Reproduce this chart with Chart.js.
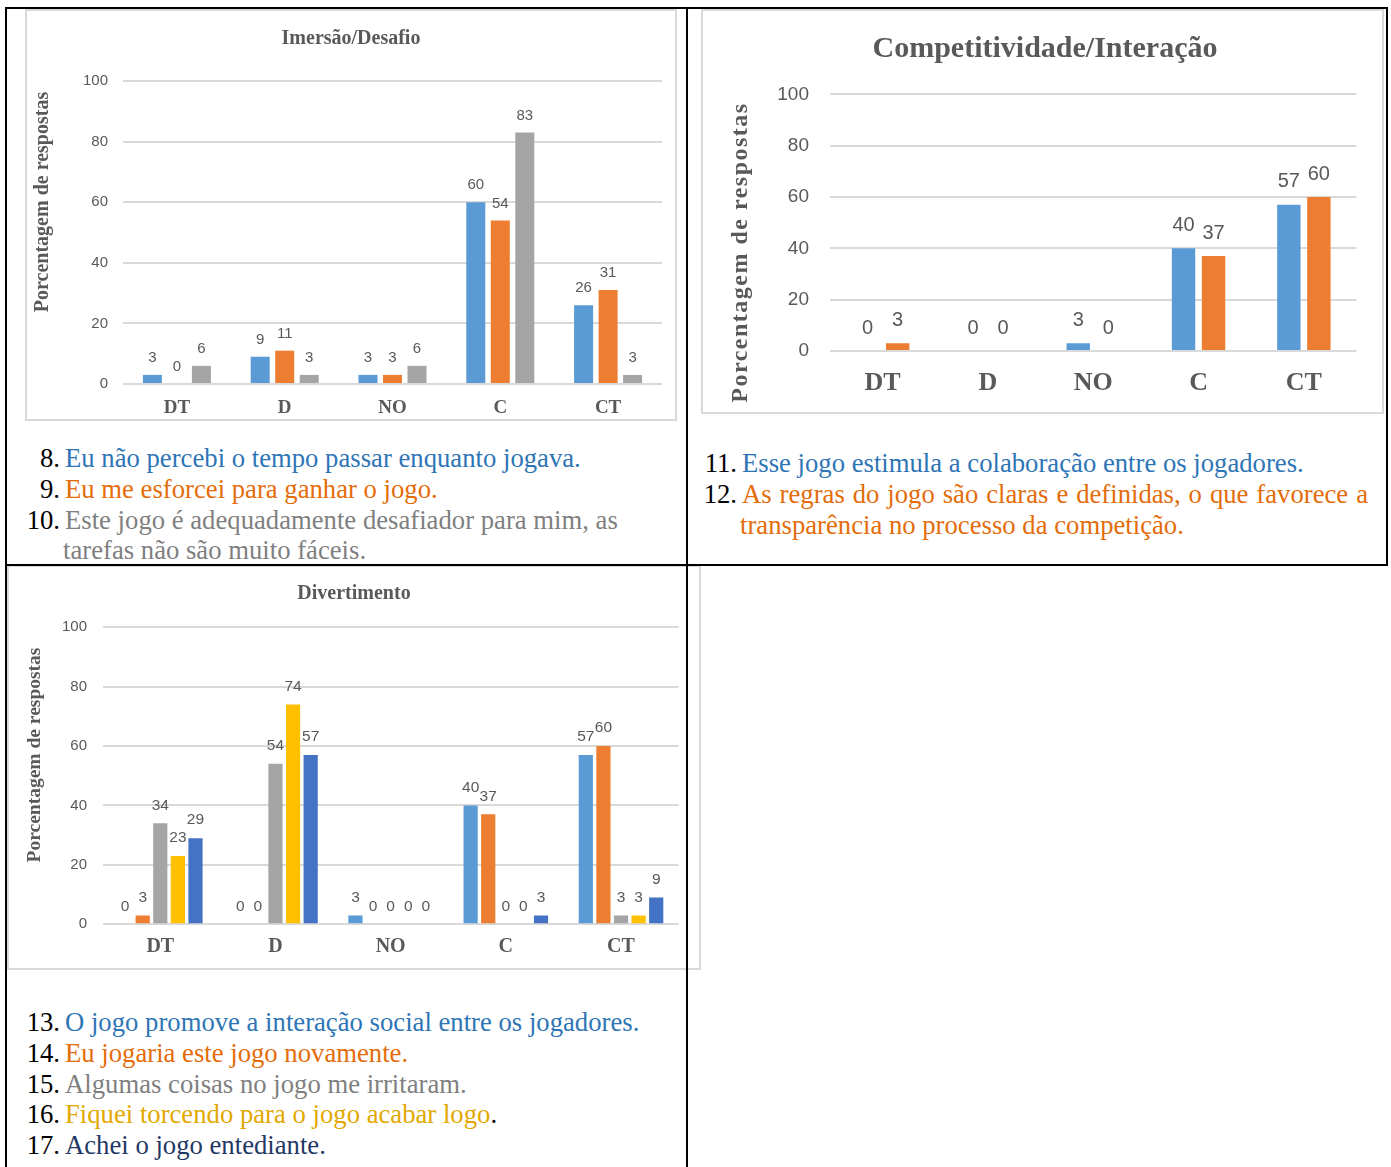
<!DOCTYPE html>
<html lang="pt">
<head>
<meta charset="utf-8">
<title>Avaliação do jogo</title>
<script src="https://cdn.jsdelivr.net/npm/chart.js@4.4.1/dist/chart.umd.min.js"></script>
<style>
  html, body { margin: 0; padding: 0; background: #fff; }
  body { width: 1391px; height: 1167px; position: relative; overflow: hidden; }
  .rule { position: absolute; background: #000; z-index: 5; }
  .box { position: absolute; border: 2px solid #D9D9D9; background: #fff; box-sizing: border-box; }
  .box canvas { display: block; }
  .txt { position: absolute; font-family: "Liberation Serif", "Times New Roman", serif;
         font-size: 26.7px; line-height: 30.8px; color: #000; }
  .item { padding-left: 38px; text-indent: -38px; }
  .num { display: inline-block; width: 35px; text-align: right; margin-right: 5px; text-indent: 0; }
  .blue { color: #2E75B6; }
  .orange { color: #E46C0A; }
  .gray { color: #7F7F7F; }
  .gold { color: #E2A800; }
  .navy { color: #1F3864; }
  .just { text-align: justify; }
</style>
</head>
<body>

<!-- table rules -->
<div class="rule" style="left:5px; top:7px; width:1383px; height:2px;"></div>
<div class="rule" style="left:5px; top:7px; width:2px; height:1160px;"></div>
<div class="rule" style="left:686px; top:7px; width:2px; height:1160px;"></div>
<div class="rule" style="left:1386px; top:7px; width:2px; height:559px;"></div>
<div class="rule" style="left:5px; top:564px; width:1383px; height:2px;"></div>

<!-- chart frames -->
<div class="box" style="left:25px; top:9px; width:652px; height:412px;">
  <canvas id="chartImersao" width="648" height="408"></canvas>
</div>
<div class="box" style="left:701px; top:9px; width:683px; height:405px;">
  <canvas id="chartCompet" width="679" height="401"></canvas>
</div>
<div class="box" style="left:7px; top:565px; width:694px; height:405px;">
  <canvas id="chartDivert" width="690" height="401"></canvas>
</div>

<!-- statements -->
<div class="txt" style="left:25px; top:443px; width:651px;">
  <div class="item"><span class="num">8.</span><span class="blue">Eu não percebi o tempo passar enquanto jogava.</span></div>
  <div class="item"><span class="num">9.</span><span class="orange">Eu me esforcei para ganhar o jogo.</span></div>
  <div class="item"><span class="num">10.</span><span class="gray">Este jogo é adequadamente desafiador para mim, as tarefas não são muito fáceis.</span></div>
</div>

<div class="txt" style="left:702px; top:448px; width:666px;">
  <div class="item"><span class="num">11.</span><span class="blue">Esse jogo estimula a colaboração entre os jogadores.</span></div>
  <div class="item just"><span class="num">12.</span><span class="orange">As regras do jogo são claras e definidas, o que favorece a transparência no processo da competição.</span></div>
</div>

<div class="txt" style="left:25px; top:1007px; width:651px;">
  <div class="item"><span class="num">13.</span><span class="blue">O jogo promove a interação social entre os jogadores.</span></div>
  <div class="item"><span class="num">14.</span><span class="orange">Eu jogaria este jogo novamente.</span></div>
  <div class="item"><span class="num">15.</span><span class="gray">Algumas coisas no jogo me irritaram.</span></div>
  <div class="item"><span class="num">16.</span><span class="gold">Fiquei torcendo para o jogo acabar logo</span>.</div>
  <div class="item"><span class="num">17.</span><span class="navy">Achei o jogo entediante.</span></div>
</div>

<script>
// Response categories (DT = discordo totalmente ... CT = concordo totalmente)
const categories = ['DT', 'D', 'NO', 'C', 'CT'];
const yTicks = [0, 20, 40, 60, 80, 100];

// Imersão/Desafio — statements 8, 9, 10 (% of answers)
const imersaoQ8  = [3, 9, 3, 60, 26];
const imersaoQ9  = [0, 11, 3, 54, 31];
const imersaoQ10 = [6, 3, 6, 83, 3];

// Competitividade/Interação — statements 11, 12
const competQ11 = [0, 0, 3, 40, 57];
const competQ12 = [3, 0, 0, 37, 60];

// Divertimento — statements 13 to 17
const divertQ13 = [0, 0, 3, 40, 57];
const divertQ14 = [3, 0, 0, 37, 60];
const divertQ15 = [34, 54, 0, 0, 3];
const divertQ16 = [23, 74, 0, 0, 3];
const divertQ17 = [29, 57, 0, 3, 9];

const BLUE = '#5B9BD5', ORANGE = '#ED7D31', GRAY = '#A5A5A5', GOLD = '#FFC000', DBLUE = '#4472C4';
const INK = '#595959';
const SERIF = '"Liberation Serif", "Times New Roman", serif';
const SANS = '"Liberation Sans", Arial, sans-serif';

// value printed above every bar
const valueLabels = {
  id: 'valueLabels',
  afterDatasetsDraw(chart, args, opts) {
    const ctx = chart.ctx;
    ctx.save();
    ctx.font = opts.fontSpec;
    ctx.fillStyle = opts.color;
    ctx.textAlign = 'center';
    ctx.textBaseline = 'middle';
    chart.data.datasets.forEach((ds, i) => {
      chart.getDatasetMeta(i).data.forEach((bar, j) => {
        ctx.fillText(String(ds.data[j]), bar.x, bar.y - opts.offset);
      });
    });
    ctx.restore();
  }
};

// rotated caption for the value axis
const sideCaption = {
  id: 'sideCaption',
  afterDraw(chart, args, opts) {
    const ctx = chart.ctx;
    ctx.save();
    ctx.translate(opts.x, opts.y);
    ctx.rotate(-Math.PI / 2);
    ctx.font = opts.fontSpec;
    ctx.fillStyle = opts.color;
    if (opts.spacing) ctx.letterSpacing = opts.spacing + 'px';
    ctx.textAlign = 'center';
    ctx.textBaseline = 'middle';
    ctx.fillText(opts.text, 0, 0);
    ctx.restore();
  }
};

function makeBarChart(canvasId, c) {
  return new Chart(document.getElementById(canvasId), {
    type: 'bar',
    data: {
      labels: categories,
      datasets: c.series.map(s => ({
        data: s.values,
        backgroundColor: s.color,
        borderWidth: 0,
        categoryPercentage: c.catPct,
        barPercentage: c.barPct
      }))
    },
    options: {
      responsive: false,
      animation: false,
      devicePixelRatio: 1,
      layout: { padding: { top: 0, left: c.padLeft, right: c.padRight, bottom: 0 } },
      plugins: {
        legend: { display: false },
        tooltip: { enabled: false },
        title: {
          display: true, text: c.title, color: INK,
          font: { family: SERIF, size: c.titleSize, weight: 'bold', lineHeight: 1.2 },
          padding: { top: c.titlePadTop, bottom: c.titlePadBottom }
        },
        valueLabels: { fontSpec: c.valueSize + 'px ' + SANS, color: INK, offset: c.valueOffset },
        sideCaption: {
          text: 'Porcentagem de respostas', color: INK,
          fontSpec: 'bold ' + c.captionSize + 'px ' + SERIF,
          spacing: c.captionSpacing || 0, x: c.captionX, y: c.captionY
        }
      },
      scales: {
        x: {
          grid: { display: false, drawTicks: false, tickLength: 0 },
          border: { display: false },
          ticks: { color: INK, font: { family: SERIF, size: c.catSize, weight: 'bold' },
                   padding: c.catPad, maxRotation: 0, autoSkip: false },
          afterFit(s) { s.height = c.xHeight; }
        },
        y: {
          min: 0, max: 100,
          grid: { color: '#D9D9D9', lineWidth: 2, drawTicks: false, tickLength: 0 },
          border: { display: false },
          ticks: { color: INK, font: { family: SANS, size: c.tickSize }, padding: c.tickPad },
          afterBuildTicks(s) { s.ticks = yTicks.map(v => ({ value: v })); },
          afterFit(s) { s.width = c.yWidth; }
        }
      }
    },
    plugins: [valueLabels, sideCaption]
  });
}

makeBarChart('chartImersao', {
  title: 'Imersão/Desafio', titleSize: 20, titlePadTop: 16, titlePadBottom: 30,
  series: [
    { values: imersaoQ8, color: BLUE },
    { values: imersaoQ9, color: ORANGE },
    { values: imersaoQ10, color: GRAY }
  ],
  catPct: 0.682, barPct: 0.776,
  padLeft: 13, padRight: 13, yWidth: 83, xHeight: 35,
  catSize: 19, catPad: 13, tickSize: 15, tickPad: 15,
  valueSize: 15, valueOffset: 17,
  captionSize: 20, captionX: 16, captionY: 191
});

makeBarChart('chartCompet', {
  title: 'Competitividade/Interação', titleSize: 30, titlePadTop: 20.2, titlePadBottom: 27.1,
  series: [
    { values: competQ11, color: BLUE },
    { values: competQ12, color: ORANGE }
  ],
  catPct: 0.57, barPct: 0.78,
  padLeft: 30.5, padRight: 25.5, yWidth: 96.5, xHeight: 61,
  catSize: 26, catPad: 16.4, tickSize: 19, tickPad: 21,
  valueSize: 20, valueOffset: 22.7,
  captionSize: 24, captionSpacing: 1.5, captionX: 37.5, captionY: 241.5
});

makeBarChart('chartDivert', {
  title: 'Divertimento', titleSize: 20, titlePadTop: 15, titlePadBottom: 21.2,
  series: [
    { values: divertQ13, color: BLUE },
    { values: divertQ14, color: ORANGE },
    { values: divertQ15, color: GRAY },
    { values: divertQ16, color: GOLD },
    { values: divertQ17, color: DBLUE }
  ],
  catPct: 0.764, barPct: 0.807,
  padLeft: 20.4, padRight: 20.4, yWidth: 73.3, xHeight: 43.7,
  catSize: 20, catPad: 10.7, tickSize: 15, tickPad: 15.7,
  valueSize: 15.5, valueOffset: 18,
  captionSize: 19.5, captionX: 26, captionY: 188
});
</script>
</body>
</html>
